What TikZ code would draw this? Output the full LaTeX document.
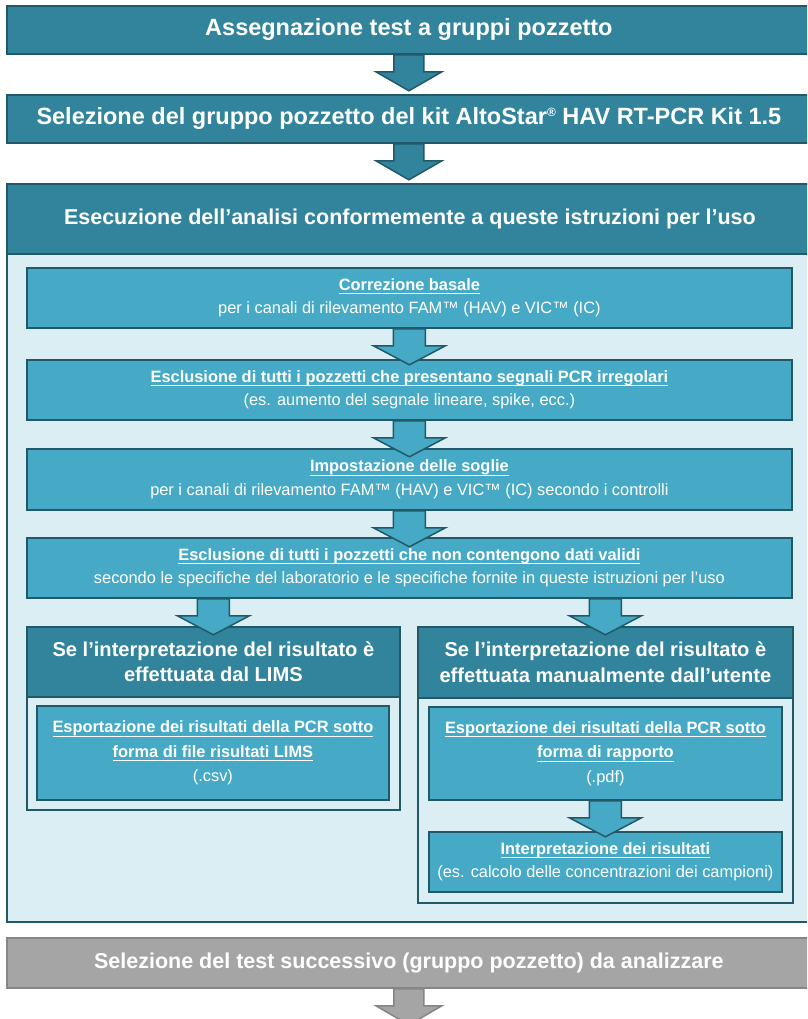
\documentclass[tikz,border=0pt]{standalone}
\usepackage{fontspec}
\setmainfont{Liberation Sans}
\usetikzlibrary{positioning}
\definecolor{tealdark}{HTML}{31849B}
\definecolor{tealline}{HTML}{215968}
\definecolor{tealmid}{HTML}{46AAC6}
\definecolor{tealpale}{HTML}{DAEEF3}
\definecolor{grayfill}{HTML}{A5A5A5}
\definecolor{grayline}{HTML}{868686}
\newcommand{\ttl}[1]{\setbox0\hbox{\bfseries #1}\leavevmode\rlap{\rule[-4pt]{\wd0}{1.1pt}}\box0}
\newcommand{\regmark}{\raisebox{8pt}{\fontsize{12}{12}\selectfont ®}}
% block arrow: style, start point, half shaft, half head
\newcommand{\downarr}[4]{\draw[#1] (#2) ++(-#3,0) -- ++(0,17) -- ++(#3-#4,0) -- ++(#4,19) -- ++(#4,-19) -- ++(#3-#4,0) -- ++(0,-17) -- cycle;}
\tikzset{
  topbox/.style={anchor=north west, fill=tealdark, draw=tealline, line width=1.8, inner sep=0, text=white,
    font=\bfseries\fontsize{23.5}{28}\selectfont},
  headbox/.style={anchor=north west, fill=tealdark, draw=tealline, line width=1.8, inner sep=0, text=white, align=center,
    font=\bfseries\fontsize{20.1}{25.5}\selectfont},
  stepbox/.style={anchor=north west, fill=tealmid, draw=tealline, line width=1.8, inner sep=0, text=white, align=center,
    font=\fontsize{16.4}{23.5}\selectfont},
  panel/.style={anchor=north west, fill=tealpale, draw=tealline, line width=1.8, inner sep=0},
  bigarr/.style={fill=tealdark, draw=tealline, line width=1.5, line join=miter},
  smallarr/.style={fill=tealmid, draw=tealline, line width=1.5, line join=miter},
  grayarr/.style={fill=grayfill, draw=grayline, line width=1.5, line join=miter}
}

\begin{document}
\begin{tikzpicture}[x=1pt,y=-1pt]
\clip (0,0) rectangle (807,1019);
\fill[white] (0,0) rectangle (807,1019);

\node[topbox, minimum width=804, minimum height=48] (assign) at (6,5) {Assegnazione test a gruppi pozzetto};
\node[topbox, minimum width=804, minimum height=48] (select) at (6,94) {Selezione del gruppo pozzetto del kit AltoStar\regmark{} HAV RT-PCR Kit 1.5};

% main panel
\node[panel, minimum width=806, minimum height=738] (exec) at (6,183) {};
\node[headbox, minimum width=806, minimum height=70, font=\bfseries\fontsize{21.5}{26}\selectfont] (exechead) at (6,183) {Esecuzione dell’analisi conformemente a queste istruzioni per l’uso};

\node[stepbox, minimum width=765, minimum height=60] (basal) at (26,267) {\ttl{Correzione basale}\\per i canali di rilevamento FAM™ (HAV) e VIC™ (IC)};
\node[stepbox, minimum width=765, minimum height=60] (irreg) at (26,359) {\ttl{Esclusione di tutti i pozzetti che presentano segnali PCR irregolari}\\(es. aumento del segnale lineare, spike, ecc.)};
\node[stepbox, minimum width=765, minimum height=61] (thresh) at (26,448) {\ttl{Impostazione delle soglie}\\per i canali di rilevamento FAM™ (HAV) e VIC™ (IC) secondo i controlli};
\node[stepbox, minimum width=765, minimum height=60] (invalid) at (26,537) {\ttl{Esclusione di tutti i pozzetti che non contengono dati validi}\\secondo le specifiche del laboratorio e le specifiche fornite in queste istruzioni per l’uso};

% LIMS branch
\node[panel, minimum width=373, minimum height=183] (lims) at (26,626) {};
\node[headbox, minimum width=373, minimum height=70] (limshead) at (26,626) {Se l’interpretazione del risultato è\\effettuata dal LIMS};
\node[stepbox, minimum width=352, minimum height=94, font=\fontsize{16.4}{24.5}\selectfont] (limsexp) at (36,705) {\ttl{Esportazione dei risultati della PCR sotto}\\\ttl{forma di file risultati LIMS}\\(.csv)};

% manual branch
\node[panel, minimum width=375, minimum height=276] (manual) at (417,626) {};
\node[headbox, minimum width=375, minimum height=71] (manualhead) at (417,626) {Se l’interpretazione del risultato è\\effettuata manualmente dall’utente};
\node[stepbox, minimum width=353, minimum height=93, font=\fontsize{16.4}{24.5}\selectfont] (report) at (428,706) {\ttl{Esportazione dei risultati della PCR sotto}\\\ttl{forma di rapporto}\\(.pdf)};
\node[stepbox, minimum width=353, minimum height=60] (interp) at (428,831) {\ttl{Interpretazione dei risultati}\\(es. calcolo delle concentrazioni dei campioni)};

\node[topbox, fill=grayfill, draw=grayline, minimum width=804, minimum height=50, font=\bfseries\fontsize{21.5}{26}\selectfont] (next) at (6,937) {Selezione del test successivo (gruppo pozzetto) da analizzare};

% arrows
\downarr{bigarr}{assign.south}{15}{33}
\downarr{bigarr}{select.south}{15}{33}
\downarr{smallarr}{basal.south}{16}{36}
\downarr{smallarr}{irreg.south}{16}{36}
\downarr{smallarr}{thresh.south}{16}{36}
\downarr{smallarr}{invalid.south -| limshead.north}{16}{36}
\downarr{smallarr}{invalid.south -| manualhead.north}{16}{36}
\downarr{smallarr}{report.south -| manualhead.north}{16}{36}
\downarr{grayarr}{next.south}{15}{33}
\end{tikzpicture}
\end{document}
